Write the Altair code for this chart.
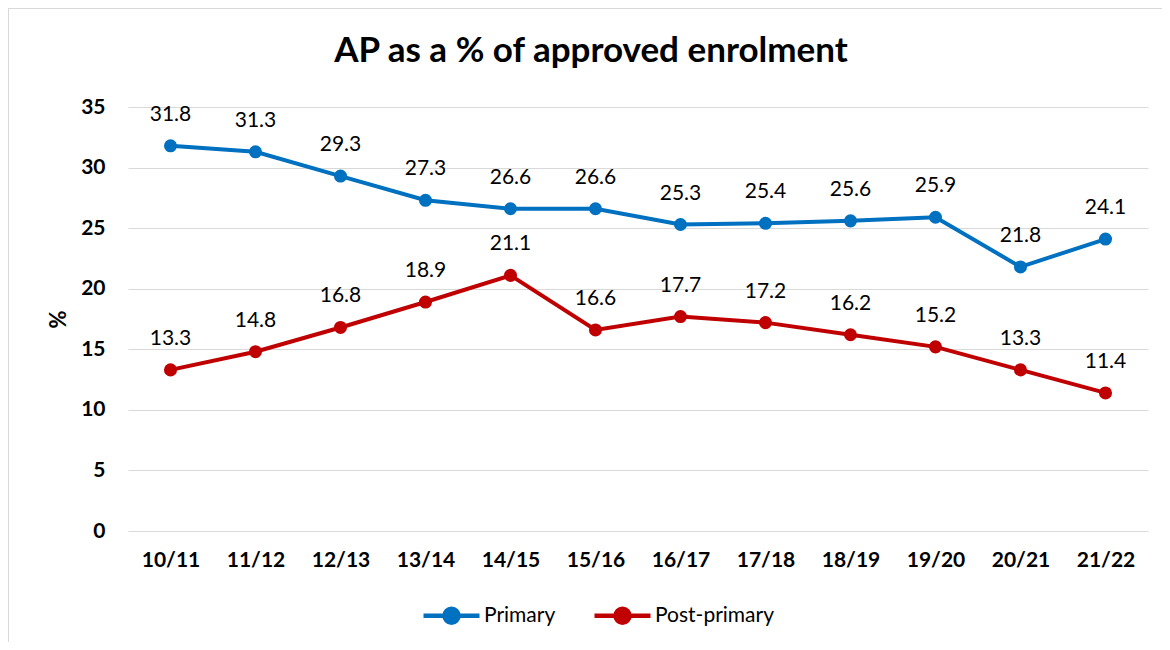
import altair as alt
import pandas as pd

title_text = "AP as a % of approved enrolment"
years = ["10/11", "11/12", "12/13", "13/14", "14/15", "15/16",
         "16/17", "17/18", "18/19", "19/20", "20/21", "21/22"]
primary = [31.8, 31.3, 29.3, 27.3, 26.6, 26.6, 25.3, 25.4, 25.6, 25.9, 21.8, 24.1]
post_primary = [13.3, 14.8, 16.8, 18.9, 21.1, 16.6, 17.7, 17.2, 16.2, 15.2, 13.3, 11.4]
series_names = ["Primary", "Post-primary"]
series_colors = ["#0070C0", "#C00000"]

rows = []
for y, p, q in zip(years, primary, post_primary):
    rows.append({"year": y, "series": series_names[0], "value": p})
    rows.append({"year": y, "series": series_names[1], "value": q})
df = pd.DataFrame(rows)

FONT = "Lato"
sym = "M-1,0 L1,0 M-0.25,0 A0.25,0.25 0 1,1 0.25,0 A0.25,0.25 0 1,1 -0.25,0 Z"

x = alt.X("year:N", sort=years, title=None,
          scale=alt.Scale(paddingInner=0, paddingOuter=0.5),
          axis=alt.Axis(labelAngle=0, labelFont=FONT, labelFontSize=21, labelFontWeight="bold",
                        labelColor="#000", labelPadding=18, domain=False, ticks=False, grid=False))
y = alt.Y("value:Q", title="%",
          scale=alt.Scale(domain=[0, 35], nice=False),
          axis=alt.Axis(values=[0, 5, 10, 15, 20, 25, 30, 35], labelFont=FONT, labelFontSize=21,
                        labelFontWeight="bold", labelColor="#000", labelPadding=23,
                        domain=False, ticks=False, gridColor="#d9d9d9", gridWidth=1.2,
                        titleFont=FONT, titleFontSize=22, titleFontWeight="bold",
                        titleColor="#000", titlePadding=10))
color = alt.Color("series:N", sort=series_names,
                  scale=alt.Scale(domain=series_names, range=series_colors),
                  legend=alt.Legend(title=None, orient="none", direction="horizontal",
                                    legendX=293, legendY=478, symbolType=sym, symbolSize=3136,
                                    symbolStrokeWidth=4.5, labelFont=FONT, labelFontSize=21,
                                    labelColor="#000", columnPadding=29, labelOffset=2,
                                    symbolOpacity=1))

one = pd.DataFrame({"t": [title_text]})
frame = alt.Chart(one).mark_rect(
    fill=None, stroke="#d9d9d9", strokeWidth=2, clip=False
).encode(x=alt.value(-120), x2=alt.value(1200), y=alt.value(-99), y2=alt.value(700))
title = alt.Chart(one).mark_text(
    font=FONT, fontSize=35, fontWeight="bold", color="#000", align="center", baseline="middle"
).encode(text="t:N", x=alt.value(463), y=alt.value(-56))

base = alt.Chart(df).encode(x=x, y=y, color=color)
lines = base.mark_line(strokeWidth=4)
points = base.mark_point(filled=True, size=170, opacity=1, shape="circle")
labels = base.mark_text(dy=-31, font=FONT, fontSize=21, color="#000").encode(
    text=alt.Text("value:Q", format=".1f"), color=alt.value("#000"))

chart = alt.layer(frame, title, lines, points, labels).properties(
    width=1020, height=424,
    background="white",
    padding={"left": 120, "top": 99, "right": 14, "bottom": 111},
    autosize=alt.AutoSizeParams(type="none"),
).configure_view(stroke=None)

chart.save("out.html", embed_options={"renderer": "svg", "actions": False})
